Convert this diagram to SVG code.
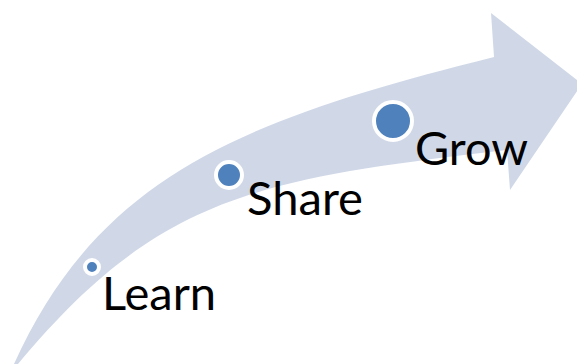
<svg xmlns="http://www.w3.org/2000/svg" width="577" height="364" viewBox="0 0 577 364">
  <style>
    .band { fill: #D0D8E8; stroke: none; }
    .dot { fill: #4F81BD; stroke: #FFFFFF; stroke-width: 4; }
    .label { font-family: Lato, "Liberation Sans", sans-serif; font-size: 46px; fill: #000000; }
  </style>
  <rect x="0" y="0" width="577" height="364" fill="#FFFFFF"/>
  <g id="connectors">
    <path id="arrow" class="band" d="M14,364 C99.5,175 244,119.5 494,57 L491,13 L582,84 L510,190 L507,150 C257,179 158,196 18,364 Z"/>
  </g>
  <g id="learn">
    <circle class="dot" cx="92" cy="267" r="7"/>
    <text class="label" x="102" y="310" textLength="114" lengthAdjust="spacingAndGlyphs">Learn</text>
  </g>
  <g id="share">
    <circle class="dot" cx="229" cy="175" r="13"/>
    <text class="label" x="247" y="215" textLength="116" lengthAdjust="spacingAndGlyphs">Share</text>
  </g>
  <g id="grow">
    <circle class="dot" cx="393" cy="121" r="19"/>
    <text class="label" x="415" y="165" textLength="113" lengthAdjust="spacingAndGlyphs">Grow</text>
  </g>
</svg>
